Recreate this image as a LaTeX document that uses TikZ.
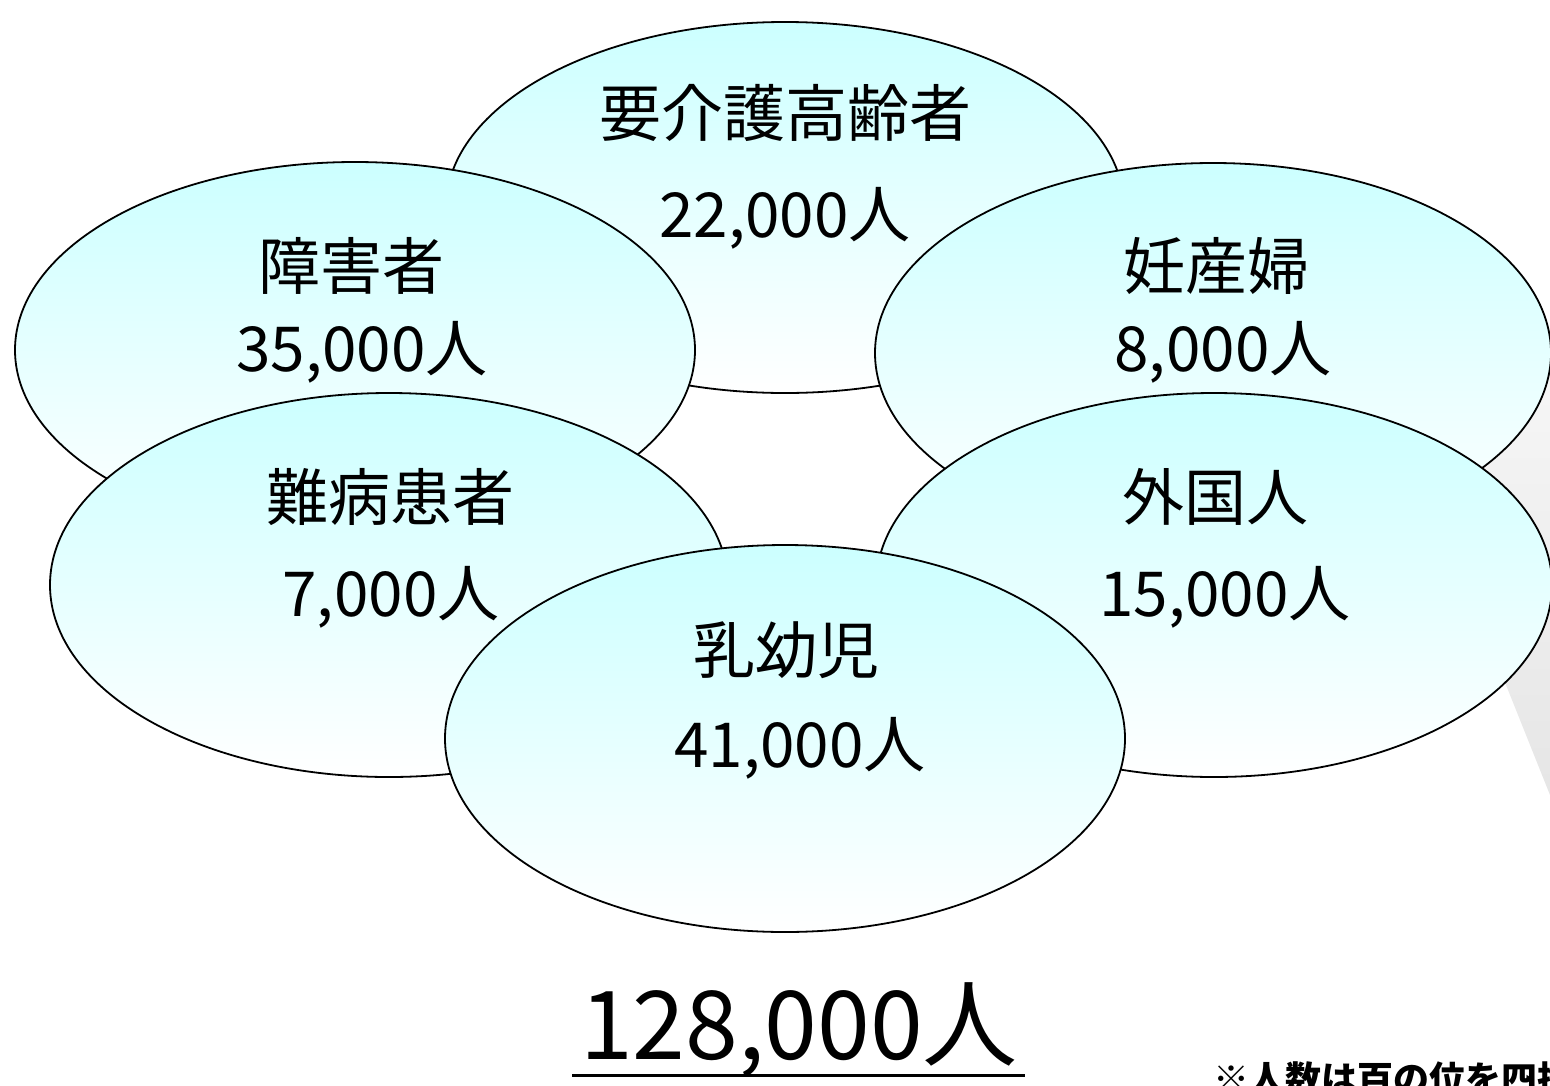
\documentclass[tikz,border=0pt]{standalone}
\usepackage{fontspec}
\setmainfont{Noto Sans CJK JP}
\usetikzlibrary{shapes.geometric}
\tikzset{
  bubble/.style={ellipse, draw=black, line width=1.8pt, top color=bubbletop, bottom color=white, shading angle=0},
  lbl/.style={font=\fontsize{62}{64}\selectfont, inner sep=0pt},
}
\definecolor{bubbletop}{HTML}{CCFFFF}
\begin{document}
\begin{tikzpicture}[x=1pt,y=-1pt]
\useasboundingbox (0,0) rectangle (1550,1085);
\clip (0,0) rectangle (1550,1085);
% gray wedge behind at right
\shade[top color=black!3, bottom color=black!10, shading angle=0] (1400,420) -- (1560,330) -- (1560,800) -- (1552,800) -- cycle;
% ellipses
\path[bubble] (785,207.5) ellipse [x radius=339, y radius=185.5];
\path[bubble] (355,350) ellipse [x radius=340, y radius=188];
\path[bubble] (1213,353) ellipse [x radius=338, y radius=190];
\path[bubble] (389,585) ellipse [x radius=339, y radius=192];
\path[bubble] (1214,585) ellipse [x radius=338, y radius=192];
\path[bubble] (785,738.5) ellipse [x radius=340, y radius=193.5];
% labels
\node[lbl] (t1) at (785,113) {要介護高齢者};
\node[lbl] (n1) at (785,218) {22,000人};
\node[lbl] (t2) at (351,266) {障害者};
\node[lbl] (n2) at (362,352) {35,000人};
\node[lbl] (t3) at (1216,266) {妊産婦};
\node[lbl] (n3) at (1223,352) {8,000人};
\node[lbl] (t4) at (390,497) {難病患者};
\node[lbl] (n4) at (391,597) {7,000人};
\node[lbl] (t5) at (1215,497) {外国人};
\node[lbl] (n5) at (1225,597) {15,000人};
\node[lbl] (t6) at (786,650) {乳幼児};
\node[lbl] (n6) at (800,748) {41,000人};
% total
\node[font=\fontsize{95}{97}\selectfont, inner sep=0pt] (tot) at (799,1030) {128,000人};
\coordinate (ul) at (572,1075);
\coordinate (ur) at (1025,1075);
\draw[line width=3pt] (ul) -- (ur);
% footnote
\node[font=\fontsize{36}{38}\selectfont\bfseries, inner sep=0pt, anchor=base west] (note) at (1213,1092) {※人数は百の位を四捨五入};
\end{tikzpicture}
\end{document}
